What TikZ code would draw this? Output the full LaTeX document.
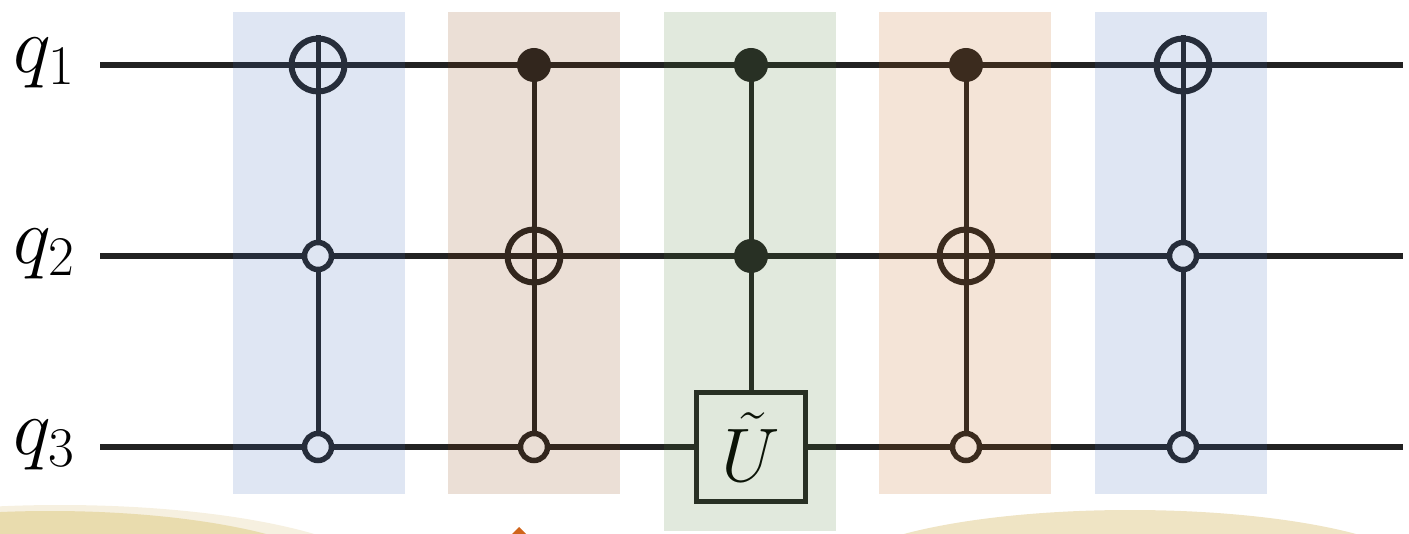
\documentclass[tikz,border=0pt]{standalone}
\usepackage{fix-cm}
\pgfdeclarelayer{bg}
\pgfdeclarelayer{fg}
\pgfsetlayers{bg,main,fg}
\definecolor{wirec}{HTML}{222222}
\definecolor{ovblue}{RGB}{59,102,181}
\definecolor{ovbrown}{RGB}{132,59,4}
\definecolor{ovgreen}{RGB}{71,120,47}
\definecolor{ovorange}{RGB}{188,90,10}
\definecolor{sandA}{HTML}{E9DCAE}
\definecolor{sandL}{HTML}{F6F0E0}
\definecolor{sandB}{HTML}{EFE4C4}
\definecolor{trico}{HTML}{D0641A}
\begin{document}
\begin{tikzpicture}[x=1pt,y=-1pt,
  wire/.style={line width=6.5pt, draw=wirec},
  ctl/.style={line width=5pt, draw=wirec},
  oplus/.style={circle, draw=wirec, line width=6pt, minimum size=53pt, inner sep=0pt},
  dotc/.style={circle, fill=wirec, minimum size=34pt, inner sep=0pt},
  openc/.style={circle, draw=wirec, fill=white, line width=5.5pt, minimum size=27pt, inner sep=0pt},
  ubox/.style={rectangle, draw=wirec, fill=white, line width=5.5pt, minimum size=109pt, inner sep=0pt, font=\fontsize{76}{80}\selectfont},
  qlab/.style={font=\fontsize{80}{84}\selectfont, inner sep=0pt},
  ovl/.style={opacity=0.163}]
\useasboundingbox (0,0) rectangle (1409,534);

% bottom decorations
\begin{scope}
\clip (0,0) rectangle (1409,534);
\fill[sandL] (60,585) ellipse [x radius=330pt, y radius=80pt];
\fill[sandA] (50,586) ellipse [x radius=300pt, y radius=75pt];
\fill[sandB] (1130,580) ellipse [x radius=300pt, y radius=70pt];
\fill[trico] (519,527) -- (526,534) -- (512,534) -- cycle;
\end{scope}

% labels
\node[qlab] (l1) at (44,63) {$q_1$};
\node[qlab] (l2) at (44,254) {$q_2$};
\node[qlab] (l3) at (44,445) {$q_3$};

% wire ends
\coordinate (w1s) at (100,65);  \coordinate (w1e) at (1403,65);
\coordinate (w2s) at (100,256); \coordinate (w2e) at (1403,256);
\coordinate (w3s) at (100,447); \coordinate (w3e) at (1403,447);

% gate 1
\node[oplus] (t1) at (318,65) {};
\node[openc] (o12) at (318,256) {};
\node[openc] (o13) at (318,447) {};
% gate 2
\node[dotc] (d21) at (534,65) {};
\node[oplus] (t2) at (534,256) {};
\node[openc] (o23) at (534,447) {};
% gate 3
\node[dotc] (d31) at (751,65) {};
\node[dotc] (d32) at (751,256) {};
\node[ubox] (u3) at (751,447) {$\tilde{U}$};
% gate 4
\node[dotc] (d41) at (966,65) {};
\node[oplus] (t4) at (966,256) {};
\node[openc] (o43) at (966,447) {};
% gate 5
\node[oplus] (t5) at (1183,65) {};
\node[openc] (o52) at (1183,256) {};
\node[openc] (o53) at (1183,447) {};

\begin{pgfonlayer}{bg}
\draw[wire] (w1s) -- (w1e);
\draw[wire] (w2s) -- (w2e);
\draw[wire] (w3s) -- (w3e);
\draw[ctl] (t1.north) -- (o13.center);
\draw[ctl] (d21.center) -- (o23.center);
\draw[ctl] (d31.center) -- (u3.north);
\draw[ctl] (d41.center) -- (o43.center);
\draw[ctl] (t5.north) -- (o53.center);
\end{pgfonlayer}

\begin{pgfonlayer}{fg}
\fill[ovblue,ovl] (233,12) rectangle (405,494);
\fill[ovbrown,ovl] (448,12) rectangle (620,494);
\fill[ovgreen,ovl] (664,12) rectangle (836,531);
\fill[ovorange,ovl] (879,12) rectangle (1051,494);
\fill[ovblue,ovl] (1095,12) rectangle (1267,494);
\end{pgfonlayer}
\end{tikzpicture}
\end{document}
